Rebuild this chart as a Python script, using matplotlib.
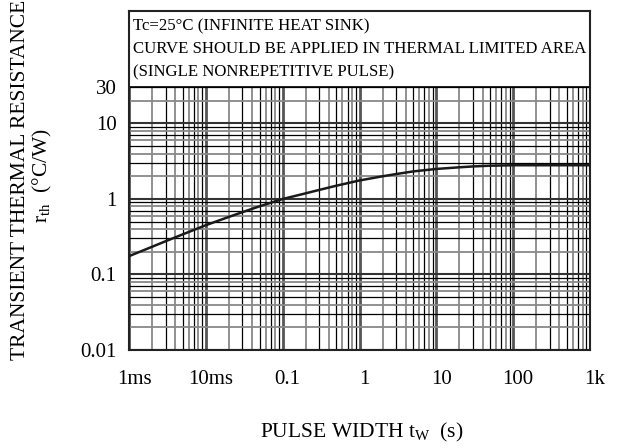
import numpy as np
import matplotlib.pyplot as plt
from matplotlib import transforms

plt.rcParams['font.family'] = ['Liberation Serif', 'DejaVu Serif']

# values
pulse_width = [1e-3, 2e-3, 3e-3, 5e-3, 1e-2, 2e-2, 3e-2, 5e-2, 1e-1, 2e-1, 3e-1,
               5e-1, 1, 2, 3, 5, 10, 20, 30, 50, 100, 1000]
r_th = [0.175, 0.233, 0.276, 0.34, 0.45, 0.58, 0.67, 0.80, 1.0, 1.19, 1.32,
        1.5, 1.76, 2.0, 2.14, 2.32, 2.5, 2.63, 2.7, 2.76, 2.8, 2.8]

x_ticks = [1e-3, 1e-2, 1e-1, 1, 10, 100, 1000]
x_labels = ['1ms', '10ms', '0.1', '1', '10', '100', '1k']
y_ticks = [0.01, 0.1, 1, 10, 30]
y_labels = ['0.01', '0.1', '1', '10', '30']
note = ["Tc=25\u00b0C (INFINITE HEAT SINK)",
        "CURVE SHOULD BE APPLIED IN THERMAL LIMITED AREA",
        "(SINGLE NONREPETITIVE PULSE)"]

fig = plt.figure(figsize=(6.2, 4.48), dpi=100)
ax = fig.add_axes([129 / 620, 1 - 350 / 448, 461 / 620, 339 / 448])
ax.set_xscale('log')
ax.set_yscale('log')
ax.set_xlim(1e-3, 1e3)
ax.set_ylim(0.01, 10 ** 2.49)

grid_top = 30
# vertical grid lines
for d in range(-3, 3):
    for k in range(1, 10):
        x = k * 10.0 ** d
        if k == 1:
            c, lw = '#555555', 2.0
        elif k % 2:
            c, lw = 'black', 0.9
        else:
            c, lw = '#888888', 1.3
        ax.vlines(x, 0.01, grid_top, colors=c, linewidth=lw, zorder=1)
# horizontal grid lines
for d in range(-2, 2):
    for k in range(1, 10):
        y = k * 10.0 ** d
        if y > grid_top:
            continue
        if k == 1:
            c, lw = '#333333', 1.5
        elif k % 2:
            c, lw = 'black', 0.9
        else:
            c, lw = '#888888', 1.3
        ax.axhline(y, color=c, linewidth=lw, zorder=1)
ax.axhline(grid_top, color='black', linewidth=1.2, zorder=1)

ax.plot(pulse_width, r_th, color='#1a1a1a', linewidth=1.8, zorder=3)

for s in ax.spines.values():
    s.set_linewidth(1.5)
    s.set_color('#222222')

ax.set_xticks(x_ticks)
ax.set_xticklabels(x_labels)
ax.set_yticks(y_ticks)
ax.set_yticklabels(y_labels)
ax.minorticks_off()
ax.tick_params(length=0, labelsize=15)
ax.tick_params(axis='x', pad=14.5)
ax.tick_params(axis='y', pad=9)
offset = transforms.ScaledTranslation(5 / 100, 0, fig.dpi_scale_trans)
for lbl in ax.get_xticklabels():
    lbl.set_transform(lbl.get_transform() + offset)

for i, line in enumerate(note):
    ax.text(0.008, 0.955 - i * 0.068, line, transform=ax.transAxes,
            fontsize=12.1, va='center', ha='left')

fig.text(362 / 620, 1 - 432 / 448, 'PULSE WIDTH t$_\\mathregular{W}$  (s)',
         ha='center', va='center', fontsize=15.5)
fig.text(21 / 620, 1 - 180 / 448, 'TRANSIENT THERMAL RESISTANCE',
         rotation=90, ha='center', va='center', fontsize=15.5)
fig.text(42 / 620, 1 - 175 / 448, 'r$_\\mathregular{th}$  (\u00b0C/W)',
         rotation=90, ha='center', va='center', fontsize=15.5)

fig.savefig('out.png', dpi=100)
